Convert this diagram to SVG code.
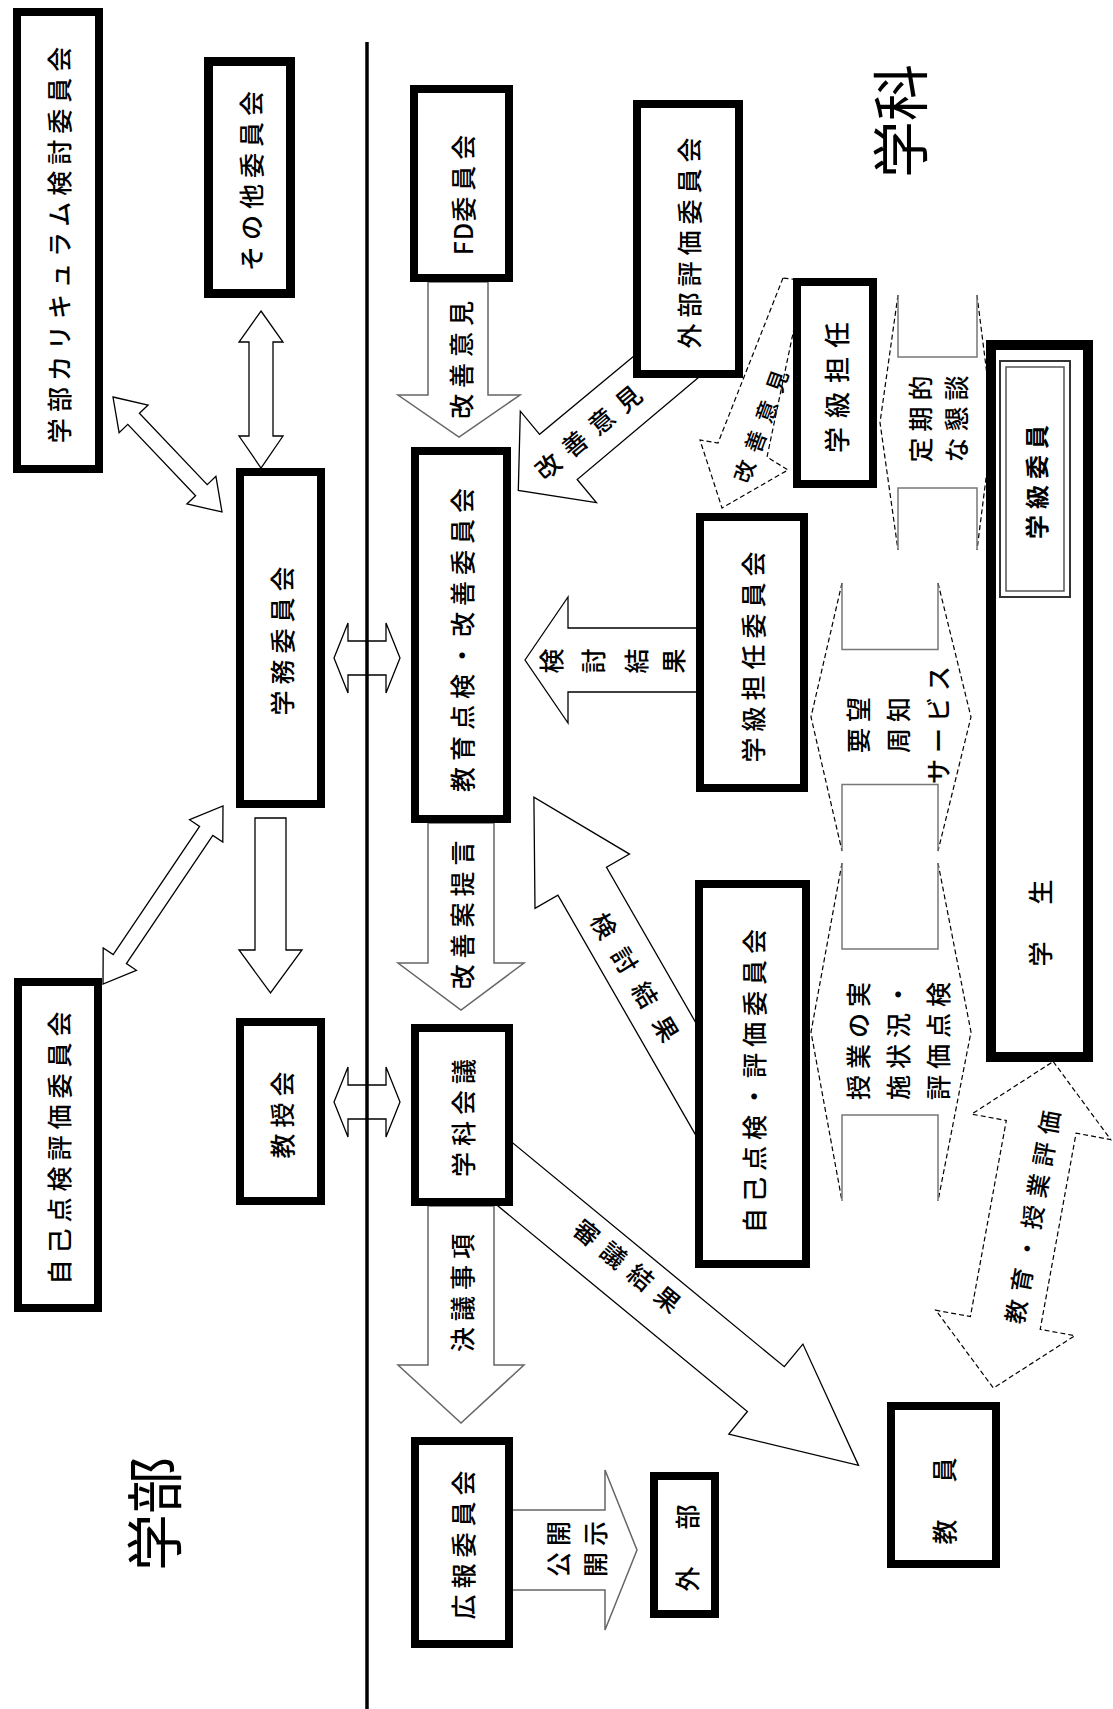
<svg xmlns="http://www.w3.org/2000/svg" width="1113" height="1709" viewBox="0 0 1113 1709">
<style>
.box{fill:#fff;stroke:#000;stroke-width:8}
.t{font-family:'Noto Sans CJK JP','Noto Sans CJK SC',sans-serif;font-size:25px;font-weight:500;letter-spacing:6px;text-anchor:middle;dominant-baseline:central;fill:#000}
.big{font-size:57px;font-weight:normal;letter-spacing:0}
.arr{fill:#fff;stroke:#000;stroke-width:1.3}
.arrg{fill:#fff;stroke:#666;stroke-width:1.5}
.dash{fill:#fff;stroke:#000;stroke-width:1.2;stroke-dasharray:5 3}
.dl{fill:none;stroke:#000;stroke-width:1.2;stroke-dasharray:5 3}
.sl{fill:none;stroke:#777;stroke-width:1.5}
.wf{fill:#fff;stroke:none}
</style>
<rect width="1113" height="1709" fill="#fff"/>
<g id="connectors">
  <polygon class="arr" points="261,311 283,342 273,342 273,436 283,436 261,468 239,436 249,436 249,342 239,342"/>
  <polygon class="arr" points="113,397 148.1,405 139.4,413.3 207.2,484.7 215.9,476.4 222,512 186.9,504 195.6,495.7 127.8,424.3 119.1,432.6"/>
  <polygon class="arr" points="223,806 222.8,842.1 212.8,835.4 126.4,963.6 136.4,970.3 103,984 103.2,947.9 113.2,954.6 199.6,826.4 189.6,819.7"/>
  <polygon class="arr" points="255,818 286,818 286,950 302,950 270.5,993 239,950 255,950"/>
  <polygon class="arr" points="334,658 348,623 348,641 386,641 386,623 400,658 386,693 386,675 348,675 348,693"/>
  <polygon class="arr" points="334,1102 348,1067 348,1085 386,1085 386,1067 400,1102 386,1137 386,1119 348,1119 348,1137"/>
  <polygon class="arrg" points="428,282 488,282 488,395 520,395 459,437 398,395 428,395"/>
  <text class="t" transform="translate(460,357) rotate(-90)">改善意見</text>
  <polygon class="arrg" points="428,823 494,823 494,963 524,963 461,1010 398,963 428,963"/>
  <text class="t" transform="translate(461,912) rotate(-90)">改善案提言</text>
  <polygon class="arrg" points="428,1206 494,1206 494,1365 524,1365 461,1423 398,1365 428,1365"/>
  <text class="t" transform="translate(461,1290) rotate(-90)">決議事項</text>
  <polygon class="arrg" points="505,1510 605,1510 605,1470 637,1550 605,1630 605,1590 505,1590"/>
  <text class="t" transform="translate(557,1546) rotate(-90)">公開</text>
  <text class="t" transform="translate(594,1546) rotate(-90)">開示</text>
  <polygon class="arr" points="640,351 539.6,434.3 520.3,411.2 518.3,490.4 596.4,502.6 577.2,479.5 705,372"/>
  <text class="t" style="letter-spacing:10px" transform="translate(591,428) rotate(-40)">改善意見</text>
  <polygon class="dash" points="783,278 718,443 700,440 722,508 788,470 767,457 800,300 800,280"/>
  <text class="t" style="font-size:22px;letter-spacing:10px" transform="translate(761,421) rotate(-70)">改善意見</text>
  <polygon class="arr" points="525,660 568,597 568,628 700,628 700,692 568,692 568,723"/>
  <text class="t" transform="translate(550,658) rotate(-90)">検</text>
  <text class="t" transform="translate(592,658) rotate(-90)">討</text>
  <text class="t" transform="translate(635,658) rotate(-90)">結</text>
  <text class="t" transform="translate(672,658) rotate(-90)">果</text>
  <polygon class="arr" points="728.9,1080.3 606.5,867.3 629.5,854.1 533.9,797.1 535,908.4 557.9,895.2 705.2,1151.6"/>
  <text class="t" style="letter-spacing:15px" transform="translate(640,983) rotate(59)">検討結果</text>
  <polygon class="arr" points="495.6,1128.8 784.3,1366.7 802.9,1344.1 858.5,1465.4 728.8,1434.1 747.4,1411.5 458.7,1173.6"/>
  <text class="t" style="letter-spacing:10px" transform="translate(632,1268) rotate(39.5)">審議結果</text>
  <polygon class="dash" points="1053.2,1061.5 1110.7,1139.6 1076.1,1133.2 1040.2,1329.3 1074.8,1335.7 993.4,1388.1 935.8,1310.2 970.4,1316.6 1006.3,1120.5 971.7,1114.1"/>
  <text class="t" style="font-size:24px;letter-spacing:8px" transform="translate(1032,1213) rotate(-80)">教育・授業評価</text>
  <polygon class="wf" points="880,422.5 898,295 898,357 977,357 977,295 993,422.5 977,550 977,488 898,488 898,550"/>
  <path class="dl" d="M898,295 L880,422.5 L898,550 M977,295 L993,422.5 L977,550"/>
  <path class="sl" d="M898,295 V357 H977 V295 M898,550 V488 H977 V550"/>
  <text class="t" transform="translate(919,416) rotate(-90)">定期的</text>
  <text class="t" transform="translate(955,416) rotate(-90)">な懇談</text>
  <polygon class="wf" points="811,717 842,583 842,649.5 938,649.5 938,583 971,717 938,851 938,784.5 842,784.5 842,851"/>
  <path class="dl" d="M842,583 L811,717 L842,851 M938,583 L971,717 L938,851"/>
  <path class="sl" d="M842,583 V649.5 H938 V583 M842,851 V784.5 H938 V851"/>
  <text class="t" transform="translate(857,722) rotate(-90)">要望</text>
  <text class="t" transform="translate(897,722) rotate(-90)">周知</text>
  <text class="t" transform="translate(937,722) rotate(-90)">サービス</text>
  <polygon class="wf" points="811,1032 842,863 842,949 938,949 938,863 971,1032 938,1201 938,1115 842,1115 842,1201"/>
  <path class="dl" d="M842,863 L811,1032 L842,1201 M938,863 L971,1032 L938,1201"/>
  <path class="sl" d="M842,863 V949 H938 V863 M842,1201 V1115 H938 V1201"/>
  <text class="t" transform="translate(857,1038) rotate(-90)">授業の実</text>
  <text class="t" transform="translate(897,1038) rotate(-90)">施状況・</text>
  <text class="t" transform="translate(937,1038) rotate(-90)">評価点検</text>
</g>
<g id="divider">
  <line x1="367" y1="42" x2="367" y2="1709" stroke="#000" stroke-width="3.5"/>
</g>
<g id="label-gakubu"><text class="t big" transform="translate(151,1514) rotate(-90)">学部</text></g>
<g id="label-gakka"><text class="t big" transform="translate(897,121) rotate(-90)">学科</text></g>
<g id="n-curriculum"><rect class="box" x="17" y="12" width="82" height="457"/><text class="t" transform="translate(58,242) rotate(-90)">学部カリキュラム検討委員会</text></g>
<g id="n-sonota"><rect class="box" style="stroke-width:9" x="208.5" y="61.5" width="82" height="232"/><text class="t" transform="translate(249.5,178) rotate(-90)">その他委員会</text></g>
<g id="n-gakumu"><rect class="box" x="240" y="472" width="81" height="332"/><text class="t" transform="translate(280.5,638) rotate(-90)">学務委員会</text></g>
<g id="n-jikotenken"><rect class="box" x="18" y="982" width="80" height="326"/><text class="t" transform="translate(58,1145) rotate(-90)">自己点検評価委員会</text></g>
<g id="n-kyojukai"><rect class="box" x="240" y="1022" width="81" height="179"/><text class="t" transform="translate(280.5,1112) rotate(-90)">教授会</text></g>
<g id="n-fd"><rect class="box" x="414" y="89" width="95" height="189"/><text class="t" transform="translate(461.5,192) rotate(-90)"><tspan style="letter-spacing:1px">FD</tspan>委員会</text></g>
<g id="n-gaibuhyoka"><rect class="box" x="637" y="104" width="102" height="270"/><text class="t" transform="translate(688,240) rotate(-90)">外部評価委員会</text></g>
<g id="n-kyoikutenken"><rect class="box" x="415" y="451" width="92" height="368"/><text class="t" transform="translate(461,637) rotate(-90)">教育点検・改善委員会</text></g>
<g id="n-tannin"><rect class="box" x="797" y="282" width="76" height="202"/><text class="t" style="font-size:26px;letter-spacing:9px" transform="translate(835,383) rotate(-90)">学級担任</text></g>
<g id="n-tannin-iinkai"><rect class="box" x="700" y="517" width="104" height="271"/><text class="t" transform="translate(752,654) rotate(-90)">学級担任委員会</text></g>
<g id="n-gakusei"><rect class="box" style="stroke-width:10" x="991" y="345" width="97" height="712"/><text class="t" transform="translate(1039,920) rotate(-90)">学　生</text></g>
<g id="n-gakkyuiin"><rect x="1000" y="361" width="70" height="236" fill="#fff" stroke="#333" stroke-width="2"/><rect x="1006" y="367" width="58" height="224" fill="none" stroke="#555" stroke-width="1.5"/><text class="t" style="font-weight:bold;font-size:24px" transform="translate(1035,479) rotate(-90)">学級委員</text></g>
<g id="n-gakkakaigi"><rect class="box" x="415" y="1028" width="94" height="174"/><text class="t" transform="translate(462,1115) rotate(-90)">学科会議</text></g>
<g id="n-jikotenken-hyoka"><rect class="box" x="699" y="884" width="107" height="380"/><text class="t" transform="translate(752.5,1078) rotate(-90)">自己点検・評価委員会</text></g>
<g id="n-koho"><rect class="box" x="415" y="1441" width="94" height="203"/><text class="t" transform="translate(462,1542) rotate(-90)">広報委員会</text></g>
<g id="n-gaibu"><rect class="box" x="654" y="1476" width="61" height="138"/><text class="t" transform="translate(686,1545) rotate(-90)">外　部</text></g>
<g id="n-kyoin"><rect class="box" x="891" y="1406" width="105" height="158"/><text class="t" transform="translate(943,1498) rotate(-90)">教　員</text></g>
</svg>
